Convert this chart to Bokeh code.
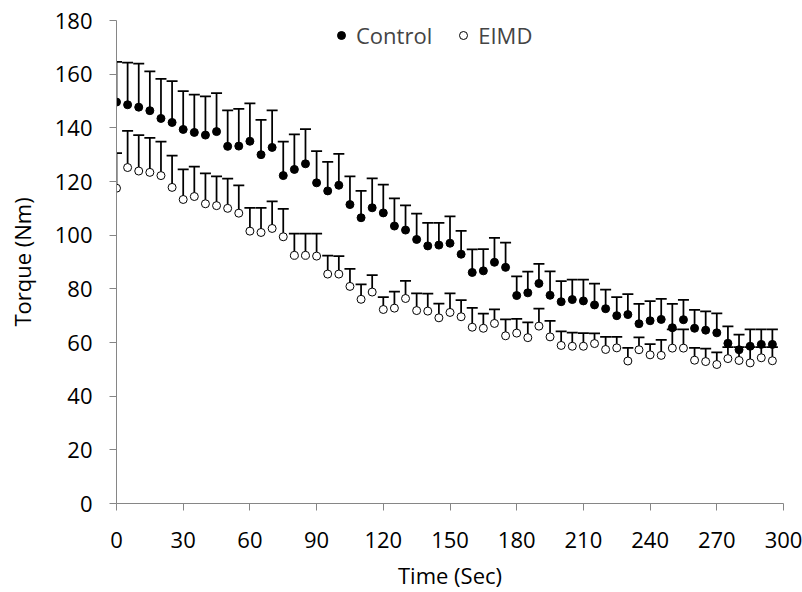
from bokeh.plotting import figure
from bokeh.models import (ColumnDataSource, Whisker, TeeHead, Range1d, FixedTicker,
                          Legend, LegendItem)
from bokeh.embed import file_html
from bokeh.resources import INLINE

time_sec = [0, 5, 10, 15, 20, 25, 30, 35, 40, 45, 50, 55, 60, 65, 70, 75, 80, 85, 90, 95,
            100, 105, 110, 115, 120, 125, 130, 135, 140, 145, 150, 155, 160, 165, 170, 175,
            180, 185, 190, 195, 200, 205, 210, 215, 220, 225, 230, 235, 240, 245, 250, 255,
            260, 265, 270, 275, 280, 285, 290, 295]

control_mean = [149.6, 148.6, 147.7, 146.4, 143.5, 142.0, 139.4, 138.3, 137.3, 138.6,
                133.1, 133.2, 135.0, 130.0, 132.7, 122.2, 124.5, 126.6, 119.5, 116.5,
                118.6, 111.4, 106.5, 110.2, 108.3, 103.4, 101.9, 98.4, 96.0, 96.3,
                97.0, 92.9, 86.1, 86.7, 89.9, 88.0, 77.5, 78.5, 82.0, 77.6,
                75.2, 76.0, 75.5, 74.0, 72.6, 70.0, 70.4, 67.0, 68.1, 68.6,
                65.5, 68.5, 65.3, 64.6, 63.6, 59.7, 57.3, 58.6, 59.3, 59.3]

control_upper = [164.6, 164.3, 163.9, 161.0, 158.2, 157.4, 153.7, 152.4, 151.7, 152.9,
                 146.5, 147.1, 149.1, 143.0, 146.5, 134.9, 137.6, 139.5, 131.3, 127.3,
                 130.3, 121.9, 116.5, 121.2, 118.8, 113.7, 111.1, 108.0, 104.6, 104.6,
                 107.0, 101.6, 94.7, 94.8, 99.0, 97.2, 84.6, 86.4, 89.3, 86.5,
                 82.9, 83.4, 83.4, 81.9, 79.7, 76.9, 78.0, 74.4, 75.4, 76.3,
                 74.4, 75.9, 72.2, 71.6, 70.9, 66.0, 62.9, 64.9, 64.9, 64.9]

eimd_mean = [117.5, 125.2, 123.9, 123.4, 122.2, 117.8, 113.3, 114.4, 111.7, 111.0,
             110.0, 108.2, 101.5, 101.0, 102.5, 99.4, 92.5, 92.5, 92.2, 85.5,
             85.5, 80.9, 76.1, 78.8, 72.3, 72.8, 76.4, 71.9, 71.7, 69.2,
             71.2, 69.6, 65.7, 65.3, 67.1, 62.5, 63.5, 61.8, 66.1, 62.1,
             58.9, 58.6, 58.6, 59.6, 57.4, 58.0, 53.1, 57.3, 55.4, 55.2,
             57.9, 57.9, 53.4, 52.9, 51.8, 54.0, 53.3, 52.4, 54.3, 53.2]

eimd_upper = [130.6, 138.9, 137.3, 136.3, 134.9, 129.6, 124.5, 125.5, 123.0, 121.9,
              121.1, 118.6, 110.2, 110.2, 112.6, 109.8, 100.6, 100.6, 100.6, 92.4,
              92.2, 87.4, 81.7, 85.1, 76.9, 79.0, 83.0, 78.3, 78.2, 74.5,
              78.3, 75.8, 72.9, 70.8, 72.3, 68.6, 68.8, 67.5, 72.6, 68.1,
              64.1, 63.7, 63.5, 63.4, 62.1, 62.1, 58.0, 61.9, 59.4, 61.0,
              64.9, 64.9, 58.0, 57.7, 56.3, 58.3, 58.3, 58.3, 58.3, 58.3]

x_ticks = [0, 30, 60, 90, 120, 150, 180, 210, 240, 270, 300]
y_ticks = [0, 20, 40, 60, 80, 100, 120, 140, 160, 180]

FONT = "Open Sans"
FS = "22px"
AXIS_GREY = "#868686"

p = figure(width=802, height=592, output_backend="svg", toolbar_location=None,
           x_range=Range1d(0, 300), y_range=Range1d(0, 180),
           min_border_left=116, min_border_right=19, min_border_top=20,
           min_border_bottom=89)
p.outline_line_color = None
p.xgrid.visible = False
p.ygrid.visible = False
p.background_fill_color = "white"
p.border_fill_color = "white"

src_c = ColumnDataSource(dict(t=time_sec, m=control_mean, up=control_upper))
src_e = ColumnDataSource(dict(t=time_sec, m=eimd_mean, up=eimd_upper))

# EIMD series first
we = Whisker(base="t", lower="m", upper="up", source=src_e, dimension="height",
             line_color="black", line_width=1.75, lower_head=None,
             upper_head=TeeHead(size=11, line_color="black", line_width=1.75))
p.add_layout(we)
r_e = p.scatter("t", "m", source=src_e, marker="circle", size=8,
                fill_color="white", line_color="black", line_width=1)

wc = Whisker(base="t", lower="m", upper="up", source=src_c, dimension="height",
             line_color="black", line_width=1.75, lower_head=None,
             upper_head=TeeHead(size=11, line_color="black", line_width=1.75))
p.add_layout(wc)
r_c = p.scatter("t", "m", source=src_c, marker="circle", size=8,
                fill_color="black", line_color="black", line_width=1)

for ax in (p.xaxis[0], p.yaxis[0]):
    ax.axis_line_color = AXIS_GREY
    ax.axis_line_width = 1
    ax.major_tick_line_color = AXIS_GREY
    ax.major_tick_in = 0
    ax.major_tick_out = 7
    ax.minor_tick_line_color = None
    ax.major_label_text_font = FONT
    ax.major_label_text_font_size = FS
    ax.major_label_text_color = "black"
    ax.axis_label_text_font = FONT
    ax.axis_label_text_font_size = FS
    ax.axis_label_text_font_style = "normal"
    ax.axis_label_text_color = "black"

p.xaxis.ticker = FixedTicker(ticks=x_ticks)
p.yaxis.ticker = FixedTicker(ticks=y_ticks)
p.xaxis.axis_label = "Time (Sec)"
p.yaxis.axis_label = "Torque (Nm)"
p.xaxis.major_label_standoff = 21
p.xaxis.axis_label_standoff = 9
p.xaxis.axis_label_text_line_height = 1.0
p.xaxis.major_label_text_line_height = 1.0
p.yaxis.major_label_standoff = 17
p.yaxis.axis_label_standoff = 15

legend = Legend(items=[LegendItem(label="Control", renderers=[r_c]),
                       LegendItem(label="EIMD", renderers=[r_e])],
                orientation="horizontal", location=(215, 453),
                label_text_font=FONT, label_text_font_size=FS,
                label_height=30, glyph_height=30,
                label_standoff=5, glyph_width=20, spacing=21, padding=0, margin=0,
                border_line_color=None, background_fill_alpha=0)
p.add_layout(legend)

open("out.html", "w").write(file_html(p, INLINE))
